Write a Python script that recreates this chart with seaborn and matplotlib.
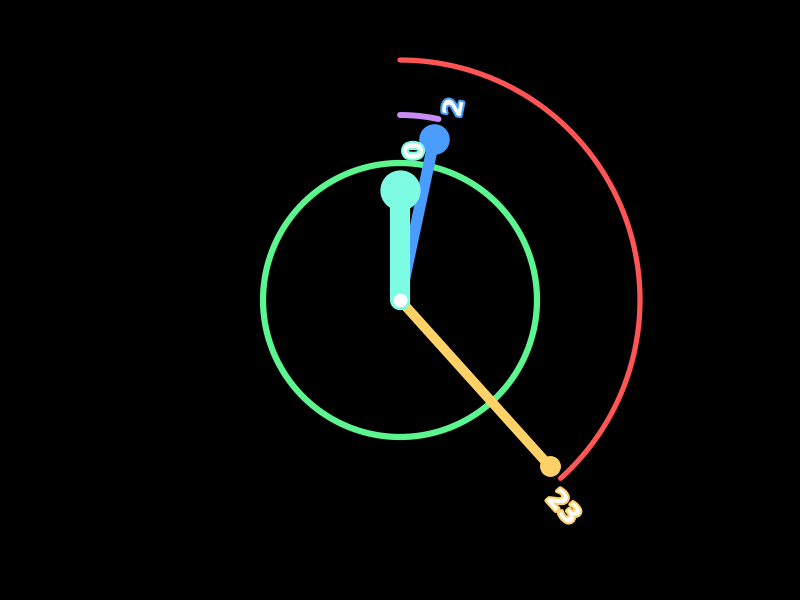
import numpy as np
import pandas as pd
import matplotlib
matplotlib.use("Agg")
import matplotlib.pyplot as plt
import matplotlib.patheffects as pe
import seaborn as sns

# clock reading shown in the chart
hand_names = ["hours", "minutes", "seconds"]
hand_values = [0, 2, 23]
hand_degrees = [0, 12, 138]          # clockwise from 12 o'clock
hand_lengths = [110, 165, 224]
hand_colors = ["#7DFCE3", "#4A9CFF", "#FFD166"]

# rings: (radius, start deg, end deg)
ring_radius = [137, 185, 240]
ring_start = [0, 0, 0]
ring_end = [360, 12, 138]
ring_colors = ["#5CF590", "#C98BF5", "#FF5555"]

cx, cy = 400, 300


def polar(r, deg):
	a = np.deg2rad(deg)
	return cx + r * np.sin(a), cy - r * np.cos(a)


sns.set_style("dark")
fig = plt.figure(figsize=(8, 6), dpi=100, facecolor="black")
ax = fig.add_axes([0, 0, 1, 1])
ax.set_facecolor("black")

# rings / arcs
ring_widths = [4.5, 4.3, 3.8]
for r, s, e, c, w in zip(ring_radius, ring_start, ring_end, ring_colors, ring_widths):
	deg = np.linspace(s, e, 300)
	x, y = polar(r, deg)
	df = pd.DataFrame({"x": x, "y": y})
	sns.lineplot(data=df, x="x", y="y", sort=False, estimator=None, color=c,
		linewidth=w, ax=ax, solid_capstyle="round", zorder=2)

# hands (seconds first, hours on top)
hand_widths = [14.5, 8.2, 7]
tip_sizes = [28, 21, 14]
hand_z = [5, 4, 3]
for deg, ln, c, w, t, z in zip(hand_degrees, hand_lengths, hand_colors, hand_widths, tip_sizes, hand_z):
	x, y = polar(np.array([0.0, ln]), deg)
	df = pd.DataFrame({"x": x, "y": y})
	sns.lineplot(data=df, x="x", y="y", sort=False, estimator=None, color=c,
		linewidth=w, ax=ax, solid_capstyle="round", zorder=z)
	ax.plot(x[1], y[1], "o", color=c, markersize=t, zorder=z)

# centre pin
ax.plot(cx, cy, "o", color="white", markersize=12, markeredgecolor=hand_colors[0],
	markeredgewidth=2, zorder=6)

# labels
label_pads = [40, 35, 40]
label_shift = [6, 4, 4]
for v, deg, ln, c, p, sh in zip(hand_values, hand_degrees, hand_lengths, hand_colors, label_pads, label_shift):
	lx, ly = polar(ln + p, deg + sh)
	ax.text(lx, ly, str(v), color="white", fontsize=19, fontweight="bold",
		ha="center", va="center", rotation=90 - deg, zorder=7,
		path_effects=[pe.withStroke(linewidth=3, foreground=c)])

ax.set_xlim(0, 800)
ax.set_ylim(600, 0)
ax.set_aspect("equal")
ax.axis("off")

plt.savefig("out.png", dpi=100, facecolor="black")
